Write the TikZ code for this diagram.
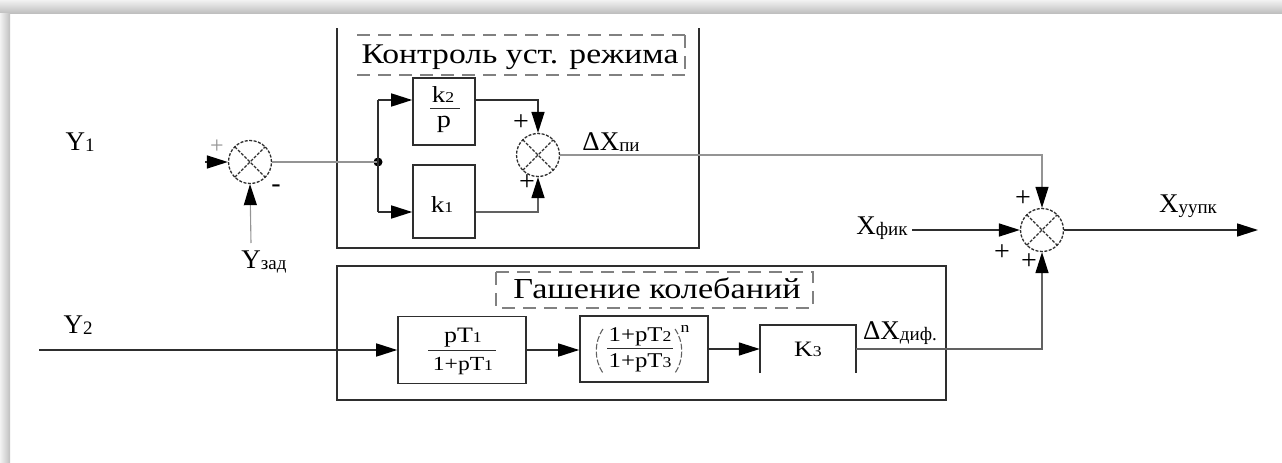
\documentclass[tikz,border=0pt]{standalone}
\usepackage{fontspec}
\setmainfont{Liberation Serif}
\newfontfamily\wfont[FakeStretch=1.18]{Liberation Serif}
\usetikzlibrary{arrows.meta}
\definecolor{dk}{gray}{0.18}
\definecolor{md}{gray}{0.38}
\definecolor{lt}{gray}{0.58}
\newcommand{\fsz}[1]{\fontsize{#1}{#1}\selectfont}
\newcommand{\lsub}[1]{\raisebox{-1.5pt}{\fsz{19}#1}}
\newcommand{\bsub}[1]{{\fsz{15}#1}}
\begin{document}
\begin{tikzpicture}[x=1pt,y=-1pt,
  ln/.style={draw=dk,line width=1.6pt},
  tn/.style={draw=lt,line width=1.1pt},
  gn/.style={draw=md,line width=1.5pt},
  arr/.style={-{Triangle[length=21pt,width=13pt,color=black]}},
  sum/.style={circle,draw=dk,line width=1.3pt,dash pattern=on 3pt off 1.5pt,minimum size=43pt,inner sep=0pt,
    path picture={\draw[dk,line width=1.2pt,dash pattern=on 3pt off 1.5pt]
      (path picture bounding box.south west)--(path picture bounding box.north east)
      (path picture bounding box.north west)--(path picture bounding box.south east);}},
  blk/.style={draw=dk,line width=1.6pt,inner sep=0pt},
  frm/.style={draw=dk,line width=1.6pt},
  ttl/.style={draw=md!80,line width=1.5pt,dash pattern=on 13pt off 8pt},
  txt/.style={inner sep=0pt,font={\fsz{27}}},
  btx/.style={inner sep=0pt,font={\wfont\fsz{22}}},
  pl/.style={inner sep=0pt,font={\fsz{28}}},
]
\useasboundingbox (0,0) rectangle (1282,463);
% page shadow
\shade[top color=gray!10,bottom color=gray!50] (0,0) rectangle (1282,13);
\shade[left color=gray!10,right color=gray!50] (0,13) rectangle (10,463);

% frames
\draw[frm] (337,28) -- (337,248) -- (699,248) -- (699,28);
\draw[frm] (337,266) rectangle (946,400);
\draw[ttl] (357,35) -- (685,35) (357,75) -- (685,75) (685,35) -- (685,75);
\node[inner sep=0pt,font={\wfont\fsz{28.5}},anchor=base] (t1) at (520,63) {Контроль уст. режима};
\draw[ttl] (496,272) rectangle (813,308);
\node[inner sep=0pt,font={\wfont\fsz{29}},anchor=base] (t2) at (657,298) {Гашение колебаний};

% summing junctions
\node[sum] (S1) at (250,162) {};
\node[sum] (S2) at (538,155) {};
\node[sum] (S3) at (1042,230) {};
\coordinate (J) at (378,162);
\fill[black] (J) circle (4.5);

% blocks upper
\node[blk,minimum width=62pt,minimum height=67pt] (K2) at (444,111.5) {};
\node[btx,font={\wfont\fsz{23}}] (k2n) at (443,95) {k\bsub{2}};
\draw[dk,line width=1pt] (430,108) -- (460,108);
\node[btx,font={\wfont\fsz{24}}] (k2d) at (444,124) {p};
\node[blk,minimum width=62pt,minimum height=73pt] (K1) at (444,201.5) {};
\node[btx,font={\wfont\fsz{23}}] (k1t) at (442,205) {k\bsub{1}};

% blocks lower
\node[blk,minimum width=128pt,minimum height=67pt] (B1) at (462,350) {};
\node[btx] (b1n) at (463,338) {pT\bsub{1}};
\draw[dk,line width=1pt] (428,350) -- (496,350);
\node[btx,font={\wfont\fsz{20}}] (b1d) at (463,366) {1+pT\bsub{1}};
\node[blk,minimum width=128pt,minimum height=66pt] (B2) at (644,349) {};
\node[btx,font={\wfont\fsz{21}}] (b2n) at (640,337) {1+pT\bsub{2}};
\draw[dk,line width=1pt] (607,348) -- (673,348);
\node[btx,font={\wfont\fsz{21}}] (b2d) at (640,363) {1+pT\bsub{3}};
\draw[md,line width=1.1pt,dash pattern=on 6pt off 2pt] (603,329) .. controls (594,342) and (594,360) .. (603,373);
\draw[md,line width=1.1pt,dash pattern=on 6pt off 2pt] (675,329) .. controls (684,342) and (684,360) .. (675,373);
\node[btx,font={\wfont\fsz{15}}] (b2e) at (685,329) {n};
\node[inner sep=0pt,minimum width=96pt,minimum height=48pt,font={\wfont\fsz{22}}] (K3) at (808,349) {K\bsub{3}};
\draw[frm] (K3.south west) -- (K3.north west) -- (K3.north east) -- (K3.south east);

% labels
\node[txt] (Y1) at (80,142) {Y\lsub{1}};
\node[txt] (Yz) at (264,262) {Y\lsub{зад}};
\node[txt] (Y2) at (78,325) {Y\lsub{2}};
\node[txt] (dXp) at (611,142) {ΔX\lsub{пи}};
\node[txt] (Xf) at (882,228) {X\lsub{фик}};
\node[txt] (Xo) at (1188,206) {X\lsub{уупк}};
\node[txt] (dXd) at (900,333) {ΔX\lsub{диф.}};

% signs
\node[pl,text=lt,font={\fsz{24}}] (s1a) at (217,147) {+};
\node[pl] (s1b) at (276,189) {-};
\node[pl] (s2a) at (521,123) {+};
\node[pl] (s2b) at (527,183) {+};
\node[pl] (s3a) at (1023,199) {+};
\node[pl] (s3b) at (1002,253) {+};
\node[pl] (s3c) at (1029,262) {+};

% connectors
\coordinate (in1) at (205,162);
\coordinate (zad) at (251,243);
\coordinate (br1) at (378,100);
\coordinate (br2) at (378,212);
\coordinate (fik) at (912,230);
\coordinate (out) at (1258,230);
\coordinate (y2) at (39,350);

\draw[ln,arr] (in1) -- (S1.west);
\draw[tn,arr] (zad) -- (S1.south);
\draw[tn] (S1.east) -- (J);
\draw[ln] (br1) -- (br2);
\draw[ln,arr] (br1) -- (K2.west |- br1);
\draw[ln,arr] (br2) -- (K1.west |- br2);
\draw[ln,arr] (K2.east |- br1) -| (S2.north);
\draw[gn,arr] (K1.east |- br2) -| (S2.south);
\draw[tn,arr] (S2.east) -| (S3.north);
\draw[ln,arr] (fik) -- (S3.west);
\draw[ln,arr] (S3.east) -- (out);
\draw[ln,arr] (y2) -- (B1.west);
\draw[ln,arr] (B1.east) -- (B2.west |- B1.east);
\draw[ln,arr] (B2.east |- K3.west) -- (K3.west);
\draw[gn,arr] (K3.east) -| (S3.south);
\end{tikzpicture}
\end{document}
